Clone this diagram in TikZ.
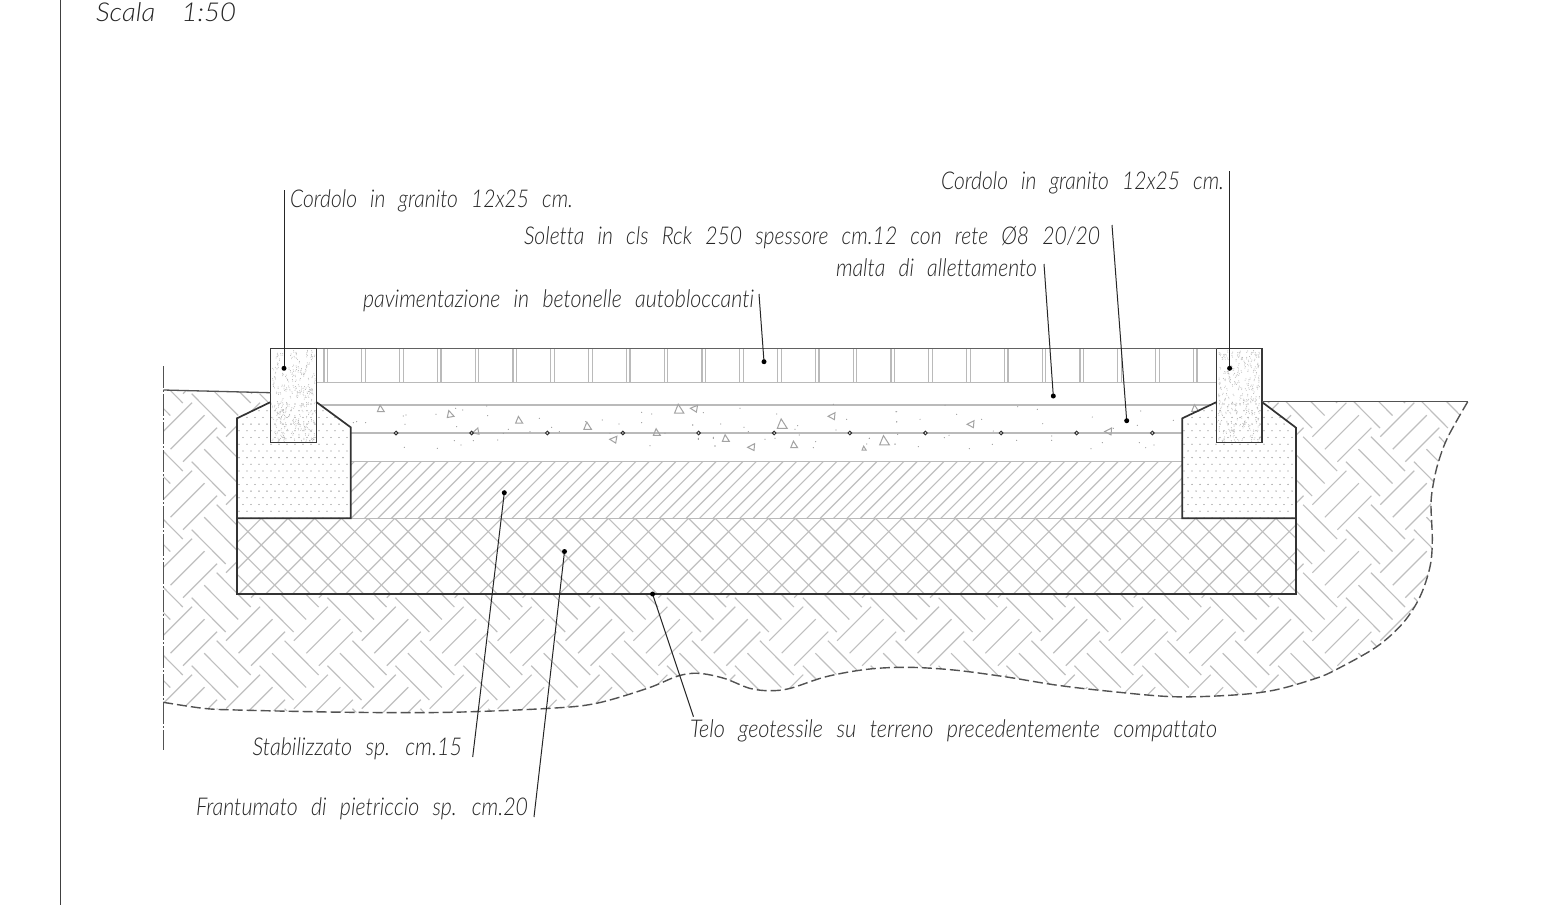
\documentclass[tikz,border=0pt]{standalone}
\usepackage{graphicx}
\usepackage{fontspec}
\newfontfamily\lab[Ligatures=NoCommon]{Lato Light Italic}
\tikzset{
  hatchline/.style={draw=black!25,line width=1.15pt},
  lightline/.style={draw=black!27,line width=1.35pt},
  outline/.style={draw=black!80,line width=1.7pt,line join=miter},
  curbline/.style={draw=black!78,line width=1.3pt,line join=miter},
  thinoutline/.style={draw=black!68,line width=1.3pt},
  leader/.style={draw=black!85,line width=1pt},
  leaddot/.style={fill=black,draw=none},
  conc/.style={fill=black!38,draw=none},
  tri/.style={draw=black!36,line width=1pt,line join=miter},
  cal/.style={inner sep=0pt,outer sep=0pt,anchor=base west,text=black!85}
}
\newcommand{\lbl}[6][24.5]{\node[cal] (#2) at (#3,#4) {\resizebox{#5pt}{\height}{\fontsize{#1pt}{#1pt}\selectfont\lab\spaceskip=.62em\relax #6}};}
\newcommand{\tritri}[4]{\draw[tri,shift={(#1,#2)},rotate=#4] (-0.55*#3,0.5*#3) -- (0.6*#3,0.5*#3) -- (-0.1*#3,-0.6*#3) -- cycle;}
\begin{document}
\begin{tikzpicture}[x=1pt,y=-1pt]
\useasboundingbox (0,0) rectangle (1550,905);
\fill[white] (0,0) rectangle (1550,905);
% sheet border
\coordinate (bt) at (60.7,0); \coordinate (bb) at (60.7,905);
\draw[draw=black!75,line width=1.5pt] (bt) -- (bb);
% ground hatch
\begin{scope}
\clip (163.3,390) -- (270.7,392.7) -- (1262,401.7) -- (1467.7,401.7)
  -- plot[smooth,tension=.55] coordinates {(1467.7,401.7) (1448,436.7) (1439,460) (1434,480) (1431,503.3) (1432.3,540) (1430,566.7) (1420,596.7) (1403,623) (1376.7,646.7) (1336.7,669.3) (1316,678.3) (1275,690) (1234,695) (1173,696.7) (1106.7,691) (1055.7,685) (1004.7,676.7) (953.7,670) (907.8,667.3) (867,669.3) (826,676.7) (790.4,688.3) (770,690.7) (749.6,688.3) (724,678.3) (698.6,673.3) (678,676) (647.5,688.3) (596.5,703.3) (550,708.3) (450,712.3) (350,712.3) (236.7,710) (203.3,708.3) (163.3,702.3)} -- cycle;
\foreach \i in {-2,...,18}{\foreach \j in {-4,...,2}{\foreach \k in {0,1,2}{
  \draw[hatchline] ({226+67.9*\i+12.5*\k},{640.7+68*\j+12.5*\k}) -- ++(34,-34);
  \draw[hatchline] ({216.7+67.9*\i-12.5*\k},{640.7+68*\j+12.5*\k}) -- ++(34,34.3);
}}}
\end{scope}
% white interior
\fill[white] (237,594) -- (237,418.3) -- (270.7,402) -- (270.7,348.3) -- (1262,348.3) -- (1262,402) -- (1296,427.7) -- (1296,594) -- cycle;
% stabilizzato hatch
\begin{scope}
\clip (350.7,461.7) rectangle (1182.3,518.3);
\foreach \k in {-13,...,54}{\draw[hatchline] ({976.7+13.4*\k-461.7},461.7) -- ({976.7+13.4*\k-518.3},518.3);}
\end{scope}
% cross hatch
\begin{scope}
\clip (237,518.3) rectangle (1296,594);
\foreach \k in {-11,...,32}{\draw[hatchline] ({1046.6+26.7*\k-518.3},518.3) -- ({1046.6+26.7*\k-594},594);}
\foreach \k in {-14,...,29}{\draw[hatchline] ({10+26.7*\k+518.3},518.3) -- ({10+26.7*\k+594},594);}
\end{scope}
% foundation dots
\begin{scope}
\clip (237,518) -- (237,418.3) -- (270.7,402) -- (316.7,402.3) -- (350.7,427.3) -- (350.7,518) -- cycle;
\foreach \j in {0,...,17}{\pgfmathsetmacro\off{mod(\j,2)*4}\foreach \i in {0,...,14}{\fill[black!48] ({239+8*\i+\off},{404+6.7*\j}) circle (0.65);}}
\end{scope}
\begin{scope}
\clip (1182.3,518) -- (1182.3,418.3) -- (1216.7,402) -- (1262,402) -- (1296,427.7) -- (1296,518) -- cycle;
\foreach \j in {0,...,17}{\pgfmathsetmacro\off{mod(\j,2)*4}\foreach \i in {0,...,14}{\fill[black!48] ({1184+8*\i+\off},{404+6.7*\j}) circle (0.65);}}
\end{scope}
% pavement
\foreach \k in {0,...,23}{
  \draw[lightline] ({324+37.8*\k},348.3) -- ({324+37.8*\k},382.3);
  \draw[lightline] ({327.6+37.8*\k},348.3) -- ({327.6+37.8*\k},382.3);
}
\draw[lightline] (316.7,382.3) -- (1216.7,382.3);
\draw[lightline] (320.4,405) -- (1210,405);
\draw[lightline] (350.7,433) -- (1182.3,433);
\draw[lightline] (350.7,461.7) -- (1182.3,461.7);
\draw[lightline] (237,518.3) -- (1296,518.3);
% concrete aggregate
\tritri{380.7}{408.7}{6}{0}\tritri{450}{414}{6}{10}\tritri{519}{420}{6}{0}\tritri{587.5}{426}{6.5}{0}
\tritri{475.7}{431.7}{5.5}{100}\tritri{656.7}{432.3}{6}{0}\tritri{613.3}{439.3}{6}{80}\tritri{679}{409}{8}{0}
\tritri{694}{408.3}{6}{80}\tritri{725.7}{438.3}{6}{0}\tritri{751.3}{447}{6}{85}\tritri{782}{424}{8.5}{0}
\tritri{794}{444.7}{6}{0}\tritri{831.7}{416}{6}{85}\tritri{864}{448.3}{3.5}{0}\tritri{884.3}{440.7}{8.5}{0}
\tritri{970.7}{424}{6}{85}\tritri{1108.3}{431.3}{6}{85}\tritri{1195}{408.3}{6}{0}
\foreach \a/\b in {100/68,110/65,137/68,250/48,258/45,255/73,348/43,407/25,428/30,500/18,503/47,410/80,403/122,423/135,460/122,533/120,550/100,565/88,630/95,658/55,695/82,718/95,253/142,352/145,797/65,847/60,897/72,965/37,995/42,965/68,870/100,1035/100,990/137,1118/75,1135/118,1180/112,1185/138}{\fill[conc] ({320+\a/3},{400+\b/3}) circle (0.6);}
\foreach \a/\b in {610/218,720/205,662/252,578/255,732/262,745/275,640/295,645/318,595/295,795/298,825/295,830/222,893/257,885/268,898/285,947/305,940/323,1040/238,1008/270,1108/295,1100/312,1190/215,1190/245,1185/312,1000/193}{\fill[conc] ({500+\a/3},{340+\b/3}) circle (0.6);}
\foreach \a/\b in {138/47,140/78,58/127,143/115,135/145,205/152,210/70,283/125,297/118,320/55,395/70,430/105,427/145,358/158,500/133,503/32,562/40,578/83,605/120,605/133,727/63,723/158,757/140,790/97,872/45,862/88,868/140,887/155,912/147,970/73,285/28}{\fill[conc] ({850+\a/3},{396+\b/3}) circle (0.6);}
% mesh bars
\foreach \k in {0,...,10}{\draw[draw=black!82,fill=white,line width=1pt] ({396+75.63*\k},433) circle (1.8);}
% curbs
\pgfmathsetseed{271}
\foreach \i in {1,...,230}{
  \pgfmathsetmacro\a{272.5+43*rnd}\pgfmathsetmacro\b{350+91*rnd}
  \fill[black!30] (\a,\b) circle (0.5);
  \fill[black!30] ({\a+2*rnd-1},{\b+1.5}) circle (0.45);
  \pgfmathsetmacro\c{1218.2+42.5*rnd}\pgfmathsetmacro\d{350+91*rnd}
  \fill[black!30] (\c,\d) circle (0.5);
  \fill[black!30] ({\c+2*rnd-1},{\d+1.5}) circle (0.45);
}
\draw[curbline] (270.7,348.3) rectangle (316.7,442.7);
\draw[curbline] (1216.7,348.3) rectangle (1262,442.7);
\draw[draw=black!62,line width=1.2pt] (316.7,348.3) -- (1216.7,348.3);
% foundations and box
\draw[outline] (270.7,402) -- (237,418.3) -- (237,594) -- (1296,594) -- (1296,427.7) -- (1262,402);
\draw[outline] (316.7,402.3) -- (350.7,427.3) -- (350.7,518.3) -- (237,518.3);
\draw[outline] (1216.7,402) -- (1182.3,418.3) -- (1182.3,518.3) -- (1296,518.3);
% ground lines
\draw[thinoutline] (163.3,390) -- (270.7,392.7);
\draw[thinoutline] (1262,401.7) -- (1467.7,401.7);
\draw[draw=black!68,line width=1.4pt,dash pattern=on 10pt off 4pt] plot[smooth,tension=.55] coordinates {(1467.7,401.7) (1448,436.7) (1439,460) (1434,480) (1431,503.3) (1432.3,540) (1430,566.7) (1420,596.7) (1403,623) (1376.7,646.7) (1336.7,669.3) (1316,678.3) (1275,690) (1234,695) (1173,696.7) (1106.7,691) (1055.7,685) (1004.7,676.7) (953.7,670) (907.8,667.3) (867,669.3) (826,676.7) (790.4,688.3) (770,690.7) (749.6,688.3) (724,678.3) (698.6,673.3) (678,676) (647.5,688.3) (596.5,703.3) (550,708.3) (450,712.3) (350,712.3) (236.7,710) (203.3,708.3) (163.3,702.3)};
\coordinate (ct) at (163.3,366); \coordinate (cb) at (163.3,750);
\draw[draw=black!68,line width=1.2pt,dash pattern=on 22pt off 2pt on 2pt off 2pt] (ct) -- (cb);
% labels
\lbl[26]{scala}{96}{21.5}{140}{Scala\hspace{.95em}1:50}
\lbl{cl}{290}{207}{283}{Cordolo in granito 12x25 cm.}
\lbl{cr}{941}{189.5}{283}{Cordolo in granito 12x25 cm.}
\lbl{sol}{524}{244.5}{576}{Soletta in cls Rck 250 spessore cm.12 con rete Ø8 20/20}
\lbl{mal}{836}{276.5}{201}{malta di allettamento}
\lbl{pav}{363}{307.5}{391}{pavimentazione in betonelle autobloccanti}
\lbl{sta}{252.5}{755.5}{209.5}{Stabilizzato sp. cm.15}
\lbl{fra}{196}{815.5}{332}{Frantumato di pietriccio sp. cm.20}
\lbl{tel}{690}{737.5}{527}{Telo geotessile su terreno precedentemente compattato}
% leaders
\coordinate (a1) at (284,190); \coordinate (d1) at (284,368.3);
\coordinate (a2) at (1229.6,171); \coordinate (d2) at (1229.6,368.3);
\coordinate (a3) at (1112,225); \coordinate (d3) at (1126.7,420.7);
\coordinate (a4) at (1044,264); \coordinate (d4) at (1053.3,396);
\coordinate (a5) at (759,294); \coordinate (d5) at (764,361.7);
\coordinate (a6) at (472.7,757); \coordinate (d6) at (504.3,492.7);
\coordinate (a7) at (534,817); \coordinate (d7) at (564.5,551.5);
\coordinate (a8) at (693.5,716.7); \coordinate (d8) at (652.6,594);
\foreach \n in {1,...,8}{
  \draw[leader] (a\n) -- (d\n);
  \fill[leaddot] (d\n) circle (2.5);
}
\end{tikzpicture}
\end{document}
